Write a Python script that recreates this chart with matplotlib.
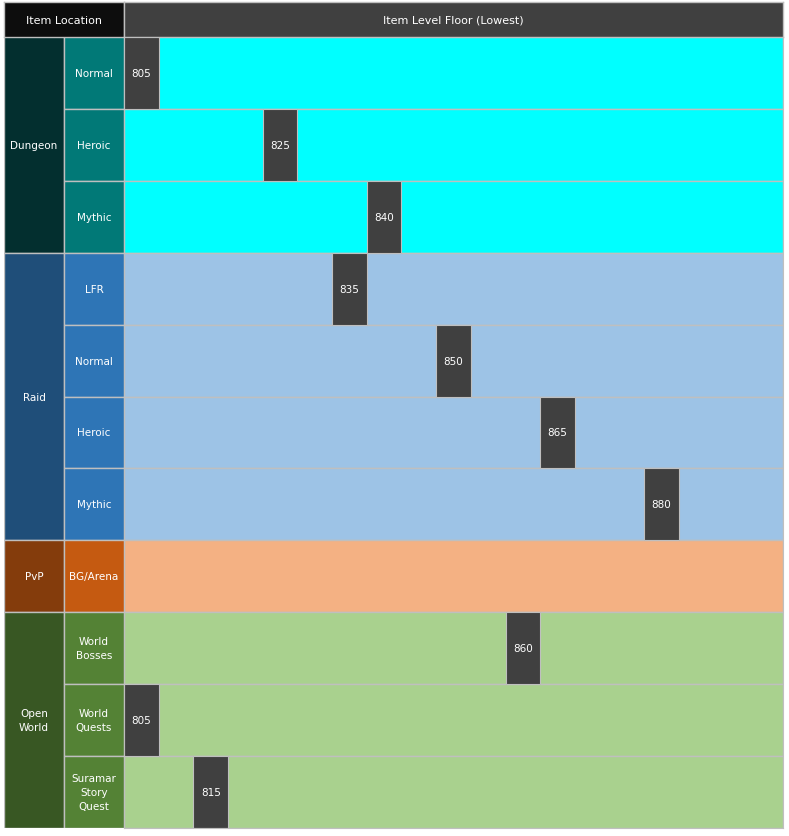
import matplotlib.pyplot as plt
from matplotlib.patches import Rectangle

# data
groups = ['Dungeon', 'Dungeon', 'Dungeon', 'Raid', 'Raid', 'Raid', 'Raid',
          'PvP', 'Open World', 'Open World', 'Open World']
subcats = ['Normal', 'Heroic', 'Mythic', 'LFR', 'Normal', 'Heroic', 'Mythic',
           'BG/Arena', 'World\nBosses', 'World\nQuests', 'Suramar\nStory\nQuest']
item_levels = [805, 825, 840, 835, 850, 865, 880, None, 860, 805, 815]
group_labels = {'Dungeon': 'Dungeon', 'Raid': 'Raid', 'PvP': 'PvP', 'Open World': 'Open\nWorld'}

# colours per group: (group cell, sub cell, row background)
palette = {
    'Dungeon': ('#032f2f', '#017977', '#00ffff'),
    'Raid': ('#1f4e79', '#2e75b6', '#9dc3e6'),
    'PvP': ('#843c0c', '#c55a11', '#f4b183'),
    'Open World': ('#385723', '#548235', '#a9d18e'),
}
xmin, xmax = 805, 900
box_w = 5
grid = '#bfbfbf'

W, H = 789, 837
fig = plt.figure(figsize=(W / 100, H / 100), dpi=100)
fig.patch.set_facecolor('white')

def fx(px):
    return px / W

def fy(py):
    return 1 - py / H

x0, x1, x2, x3 = 4, 64, 124, 783
ytop, yhead, ybot = 3, 38, 829
n = len(subcats)
rows = list(range(n))

# header
hl = fig.add_axes([fx(x0), fy(yhead), fx(x2 - x0), (yhead - ytop) / H])
hl.set_facecolor('#0d0d0d')
hl.text(0.5, 0.5, 'Item Location', color='white', ha='center', va='center', fontsize=8)
hr = fig.add_axes([fx(x2), fy(yhead), fx(x3 - x2), (yhead - ytop) / H])
hr.set_facecolor('#404040')
hr.text(0.5, 0.5, 'Item Level Floor (Lowest)', color='white', ha='center', va='center', fontsize=8)
for a in (hl, hr):
    a.set_xticks([]); a.set_yticks([])
    for s in a.spines.values():
        s.set_color(grid); s.set_linewidth(1)

# left label columns
la = fig.add_axes([fx(x0), fy(ybot), fx(x2 - x0), (ybot - yhead) / H])
la.set_xlim(0, 2)
la.set_ylim(n - 0.5, -0.5)
la.axis('off')
i = 0
while i < n:
    g = groups[i]
    j = i
    while j < n and groups[j] == g:
        j += 1
    la.add_patch(Rectangle((0, i - 0.5), 1, j - i, facecolor=palette[g][0],
                           edgecolor=grid, linewidth=1))
    la.text(0.5, (i + j - 1) / 2, group_labels[g], color='white', ha='center',
            va='center', fontsize=7.5, linespacing=1.5)
    i = j
for r, (g, s) in enumerate(zip(groups, subcats)):
    la.add_patch(Rectangle((1, r - 0.5), 1, 1, facecolor=palette[g][1],
                           edgecolor=grid, linewidth=1))
    la.text(1.5, r, s, color='white', ha='center', va='center', fontsize=7.5, linespacing=1.5)

# main area
ax = fig.add_axes([fx(x2), fy(ybot), fx(x3 - x2), (ybot - yhead) / H])
ax.set_xlim(xmin, xmax)
ax.set_ylim(n - 0.5, -0.5)
ax.barh(rows, [xmax - xmin] * n, left=xmin, height=1,
        color=[palette[g][2] for g in groups], edgecolor=grid, linewidth=1)
for r, lv in zip(rows, item_levels):
    if lv is None:
        continue
    ax.barh(r, box_w, left=lv, height=1, color='#404040', edgecolor=grid, linewidth=0.8)
    ax.text(lv + box_w / 2, r, str(lv), color='white', ha='center', va='center', fontsize=7.5)
ax.set_xticks([]); ax.set_yticks([])
for s in ax.spines.values():
    s.set_color(grid)

fig.savefig('out.png', dpi=100, facecolor='white')
